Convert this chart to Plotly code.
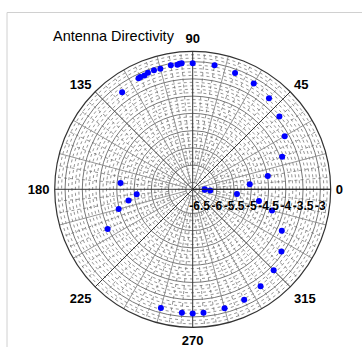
import numpy as np
import plotly.graph_objects as go

# Measured directivity pattern: angle (deg) and level (dB)
angle_deg = [0, 5, 10, 20, 30, 40, 50, 60, 70, 80, 90, 95, 96, 97, 100,
             105, 108, 111, 113, 115, 116, 126, 175, 185, 190, 195, 205,
             255, 265, 270, 275, 285, 295, 305, 315, 325, 335, 345, 350,
             354, 356, 358]
level_db = [-6.35, -5.04, -4.49, -3.94, -3.62, -3.42, -3.26, -3.16, -3.11,
            -3.05, -3.05, -3.03, -3.04, -3.06, -3.05, -3.08, -3.07, -3.08,
            -3.12, -3.11, -3.12, -3.22, -4.60, -5.07, -4.81, -4.48, -3.98,
            -3.14, -3.11, -3.10, -3.11, -3.13, -3.17, -3.27, -3.38, -3.56,
            -3.85, -4.32, -4.75, -5.41, -6.19, -6.35]

# Axis setup
r_range = [-6.7, -2.7]
r_ticks = [-6.5, -6, -5.5, -5, -4.5, -4, -3.5, -3]
r_ticktext = ["-6.5", "-6", "-5.5", "-5", "-4.5", "-4", "-3.5", "-3"]
theta_labels = [0, 45, 90, 135, 180, 225, 270, 315]
spoke_step = 15
minor_spoke_step = 5
minor_ring_step = 0.1

fig = go.Figure()

# Dotted minor rings
ring_vals = np.round(np.arange(r_range[0] + minor_ring_step, r_range[1], minor_ring_step), 2)
ring_vals = [v for v in ring_vals if not np.any(np.isclose(v, r_ticks))]
circle_t = np.linspace(0, 360, 181)
rr, tt = [], []
for v in ring_vals:
    rr += [v] * len(circle_t) + [None]
    tt += list(circle_t) + [None]
fig.add_trace(go.Scatterpolar(r=rr, theta=tt, mode="lines",
                              line=dict(color="#666666", width=0.7, dash="dot"),
                              hoverinfo="skip", showlegend=False))

# Dotted minor spokes
rr, tt = [], []
for a in range(0, 360, minor_spoke_step):
    if a % spoke_step:
        rr += [r_ticks[1], r_range[1], None]
        tt += [a, a, None]
fig.add_trace(go.Scatterpolar(r=rr, theta=tt, mode="lines",
                              line=dict(color="#666666", width=0.7, dash="dot"),
                              hoverinfo="skip", showlegend=False))

# Solid spokes every 15 degrees, starting off the centre
rr, tt = [], []
for a in range(0, 360, spoke_step):
    if a not in theta_labels:
        rr += [r_ticks[0], r_range[1], None]
        tt += [a, a, None]
fig.add_trace(go.Scatterpolar(r=rr, theta=tt, mode="lines",
                              line=dict(color="#888888", width=0.9),
                              hoverinfo="skip", showlegend=False))

# Heavier spokes on the labelled directions
rr, tt = [], []
for a in theta_labels:
    rr += [r_range[0], r_range[1], None]
    tt += [a, a, None]
fig.add_trace(go.Scatterpolar(r=rr, theta=tt, mode="lines",
                              line=dict(color="#333333", width=1),
                              hoverinfo="skip", showlegend=False))

# Pattern samples
fig.add_trace(go.Scatterpolar(r=level_db, theta=angle_deg, mode="markers",
                              marker=dict(color="#0000ff", size=6),
                              showlegend=False))

fig.update_layout(
    width=362, height=347,
    margin=dict(l=0, r=0, t=0, b=0),
    paper_bgcolor="white",
    polar=dict(
        domain=dict(x=[0.1511, 0.9135], y=[0.0568, 0.8522]),
        bgcolor="white",
        radialaxis=dict(
            range=r_range, tickvals=r_ticks, ticktext=r_ticktext,
            angle=0, tickangle=0,
            ticks="outside", ticklen=6, tickcolor="rgba(0,0,0,0)",
            showline=True, linecolor="#222222", linewidth=1,
            gridcolor="#777777", gridwidth=1,
            tickfont=dict(family="Liberation Sans", size=12, color="black", weight="bold"),
        ),
        angularaxis=dict(
            rotation=0, direction="counterclockwise",
            tickvals=theta_labels,
            ticktext=[str(a) for a in theta_labels],
            ticks="outside", ticklen=2, tickcolor="rgba(0,0,0,0)",
            showgrid=False,
            showline=True, linecolor="#333333", linewidth=1.2,
            tickfont=dict(family="Liberation Sans", size=13, color="black", weight="bold"),
        ),
    ),
    annotations=[dict(
        text="Antenna Directivity", xref="paper", yref="paper",
        x=51 / 362, y=1 - 36 / 347, xanchor="left", yanchor="middle",
        showarrow=False,
        font=dict(family="Liberation Sans", size=14.5, color="black"),
    )],
    shapes=[
        dict(type="line", xref="paper", yref="paper",
             x0=7 / 362, x1=1, y0=1 - 12.5 / 347, y1=1 - 12.5 / 347,
             line=dict(color="#d0d0d0", width=1)),
        dict(type="line", xref="paper", yref="paper",
             x0=7 / 362, x1=7 / 362, y0=0, y1=1 - 12.5 / 347,
             line=dict(color="#d0d0d0", width=1)),
    ],
)

fig.write_html("out.html")
